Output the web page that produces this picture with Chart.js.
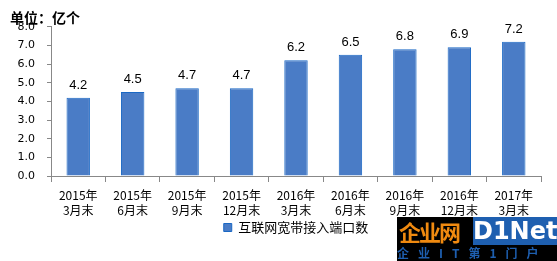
<!DOCTYPE html>
<html>
<head>
<meta charset="utf-8">
<script src="https://cdn.jsdelivr.net/npm/chart.js@4"></script>
<style>
  html, body { margin: 0; padding: 0; background: #fff; }
  #wrap { position: relative; width: 557px; height: 261px; }
  #logo { position: absolute; left: 397px; top: 217px; width: 160px; height: 44px; background: #000; font-family: "Noto Sans CJK SC", sans-serif; }
  #logo .a { position: absolute; left: 2px; top: 0; width: 74px; height: 28px; color: #f08a10; font-weight: bold; font-size: 22px; line-height: 28px; letter-spacing: -2px; }
  #logo .b { position: absolute; left: 76px; top: 0; width: 84px; height: 28px; background: #1e5fb0; color: #fff; font-family: "DejaVu Sans", sans-serif; font-weight: bold; font-size: 24px; line-height: 28px; text-align: center; }
  #logo .c { position: absolute; left: 0; top: 28px; width: 160px; height: 16px; color: #1e5fb0; font-weight: bold; font-size: 12px; line-height: 16px; letter-spacing: 9px; }
</style>
</head>
<body>
<div id="wrap">
  <canvas id="c" width="557" height="261"></canvas>
  <div id="logo"><div class="a">企业网</div><div class="b">D1Net</div><div class="c">企业IT第1门户</div></div>
</div>
<script>
const categories = [
  ['2015年', '3月末'], ['2015年', '6月末'], ['2015年', '9月末'], ['2015年', '12月末'],
  ['2016年', '3月末'], ['2016年', '6月末'], ['2016年', '9月末'], ['2016年', '12月末'],
  ['2017年', '3月末']
];
const seriesName = '互联网宽带接入端口数';
const portValues = [4.2, 4.5, 4.7, 4.7, 6.2, 6.5, 6.8, 6.9, 7.2];
const yTicks = [0, 1, 2, 3, 4, 5, 6, 7, 8];

const cjk = '"Noto Sans CJK SC", "DejaVu Sans", sans-serif';

// value labels above each bar
const barLabels = {
  id: 'barLabels',
  afterDatasetsDraw(chart) {
    const ctx = chart.ctx;
    const meta = chart.getDatasetMeta(0);
    ctx.save();
    ctx.fillStyle = '#000';
    ctx.font = '13px "Liberation Sans", sans-serif';
    ctx.textAlign = 'center';
    ctx.textBaseline = 'alphabetic';
    meta.data.forEach((bar, i) => {
      ctx.fillText(portValues[i].toFixed(1), bar.x, bar.y - 9);
    });
    ctx.restore();
  }
};

new Chart(document.getElementById('c'), {
  type: 'bar',
  data: {
    labels: categories,
    datasets: [{
      label: seriesName,
      data: portValues,
      backgroundColor: '#4a7cc6',
      borderColor: '#1a68c4',
      borderWidth: 1,
      categoryPercentage: 1,
      barPercentage: 0.43
    }]
  },
  options: {
    responsive: false,
    animation: false,
    layout: { padding: { left: 10, right: 16, top: 0, bottom: 17 } },
    plugins: {
      title: {
        display: true,
        text: '单位：亿个',
        align: 'start',
        color: '#000',
        font: { family: cjk, size: 14, weight: 'bold', lineHeight: 1.2 },
        padding: { top: 9, bottom: 1 }
      },
      legend: {
        position: 'bottom',
        fullSize: false,
        labels: {
          color: '#000',
          font: { family: cjk, size: 13 },
          boxWidth: 8,
          boxHeight: 8,
          padding: 5
        }
      },
      tooltip: { enabled: false }
    },
    scales: {
      x: {
        afterFit(scale) { scale.height = 40; },
        grid: { display: true, drawOnChartArea: false, drawTicks: true, tickLength: 6, color: '#888', offset: true },
        border: { color: '#888' },
        ticks: { color: '#000', font: { family: cjk, size: 12, lineHeight: 1.25 }, maxRotation: 0, autoSkip: false, padding: 6 }
      },
      y: {
        min: 0,
        max: 8,
        afterBuildTicks(scale) { scale.ticks = yTicks.map(v => ({ value: v })); },
        afterFit(scale) { scale.width = 41; },
        grid: { display: true, drawOnChartArea: false, drawTicks: true, tickLength: 4, color: '#888' },
        border: { color: '#888' },
        ticks: {
          color: '#000',
          font: { family: '"DejaVu Sans", sans-serif', size: 11 },
          padding: 12,
          callback: v => v.toFixed(1)
        }
      }
    }
  },
  plugins: [barLabels]
});
</script>
</body>
</html>
